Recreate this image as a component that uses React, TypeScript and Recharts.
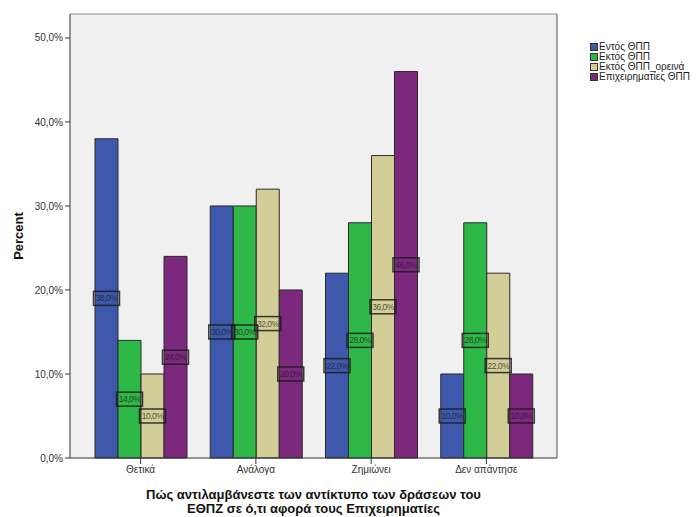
import { BarChart, Bar, XAxis, YAxis, CartesianGrid, LabelList } from "recharts";

const categories = ["Θετικά", "Ανάλογα", "Ζημιώνει", "Δεν απάντησε"];
const seriesNames = ["Εντός ΘΠΠ", "Εκτός ΘΠΠ", "Εκτός ΘΠΠ_ορεινά", "Επιχειρηματίες ΘΠΠ"];
const entosValues = [38, 30, 22, 10];
const ektosValues = [14, 30, 28, 28];
const oreinaValues = [10, 32, 36, 22];
const epixValues = [24, 20, 46, 10];
const yTicks = [0, 10, 20, 30, 40, 50];
const colors = ["#3E58AC", "#2EB848", "#D3CE97", "#7C287D"];

const keys = ["entos", "ektos", "oreina", "epix"];
const data = categories.map((c, i) => ({
  name: c,
  entos: entosValues[i],
  ektos: ektosValues[i],
  oreina: oreinaValues[i],
  epix: epixValues[i],
}));

const FONT = "'Liberation Sans', Arial, sans-serif";
const pct = (v: number) => `${v.toFixed(1).replace(".", ",")}%`;

// boxed value label in the middle of the bar
function BoxLabel(props: any) {
  const { x, y, width, height, value } = props;
  const cx = x + width / 2;
  const cy = y + height / 2;
  return (
    <g>
      <rect x={cx - 13} y={cy - 7} width={26} height={14} fill="none" stroke="#1b1b1b" strokeOpacity={0.85} strokeWidth={1.5} />
      <text x={cx} y={cy} dy="0.35em" textAnchor="middle" fontSize={8.5} fontFamily={FONT} fill="#1b1b1b" fillOpacity={0.75} letterSpacing={-0.5}>
        {pct(value)}
      </text>
    </g>
  );
}

function LegendBox() {
  return (
    <div style={{ position: "absolute", left: 590, top: 42, fontFamily: FONT, fontSize: 10, color: "#222", lineHeight: "10px" }}>
      {seriesNames.map((n, i) => (
        <div key={n} style={{ display: "flex", alignItems: "center", height: 10, whiteSpace: "nowrap" }}>
          <span style={{ width: 6, height: 6, background: colors[i], border: "1px solid #333", marginRight: 1 }} />
          {n}
        </div>
      ))}
    </div>
  );
}

function XTitle(props: any) {
  const { viewBox } = props;
  const cx = viewBox.x + viewBox.width / 2;
  return (
    <text x={cx} textAnchor="middle" fontSize={13} fontWeight="bold" fontFamily={FONT} fill="#111">
      <tspan x={cx} y={499}>Πώς αντιλαμβάνεστε των αντίκτυπο των δράσεων του</tspan>
      <tspan x={cx} y={513}>ΕΘΠΖ σε ό,τι αφορά τους Επιχειρηματίες</tspan>
    </text>
  );
}

export default function App() {
  return (
    <div style={{ position: "absolute", left: 0, top: 0, width: 700, height: 517, background: "#fff" }}>
      <BarChart
        width={700}
        height={517}
        data={data}
        margin={{ top: 13, right: 142, bottom: 29, left: 0 }}
        barSize={23}
        barGap="0%"
      >
        <CartesianGrid horizontal={false} vertical={false} fill="#F0F0F0" />
        <XAxis
          dataKey="name"
          padding={{ left: 13, right: 13 }}
          stroke="#333"
          tickSize={6}
          tick={{ fontSize: 10, fill: "#333", fontFamily: FONT }}
          label={<XTitle />}
        />
        <XAxis xAxisId="top" orientation="top" dataKey="name" height={1} tick={false} tickLine={false} stroke="#8a8a8a" />
        <YAxis
          width={70}
          domain={[0, 52.85]}
          ticks={yTicks}
          tickFormatter={pct}
          stroke="#333"
          tickSize={5}
          tick={{ fontSize: 10, fill: "#333", fontFamily: FONT }}
          label={{ value: "Percent", angle: -90, position: "insideLeft", offset: 18, style: { fontSize: 13, fontWeight: "bold", fontFamily: FONT, fill: "#111", textAnchor: "middle" } }}
        />
        <YAxis yAxisId="right" orientation="right" width={1} domain={[0, 52.85]} tick={false} tickLine={false} stroke="#555" />
        {keys.map((k, i) => (
          <Bar key={k} dataKey={k} name={seriesNames[i]} fill={colors[i]} stroke="#2a2a2a" strokeWidth={1} isAnimationActive={false}>
            <LabelList dataKey={k} content={<BoxLabel />} />
          </Bar>
        ))}
      </BarChart>
      <LegendBox />
    </div>
  );
}
